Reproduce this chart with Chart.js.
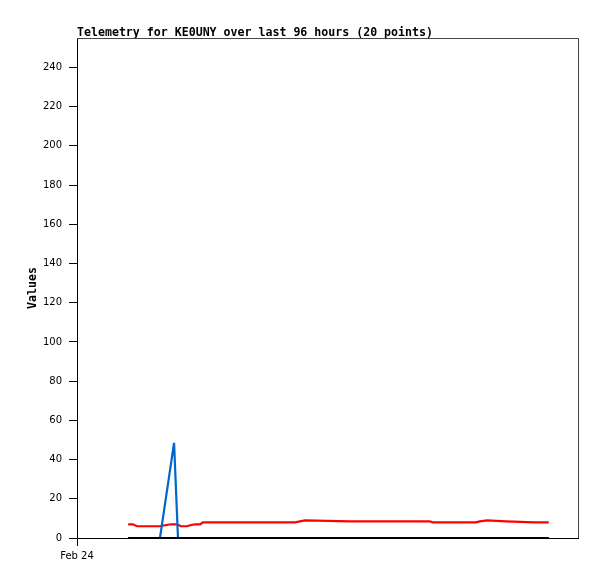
<!DOCTYPE html>
<html>
<head>
<meta charset="utf-8">
<script src="https://cdn.jsdelivr.net/npm/chart.js@4/dist/chart.umd.min.js"></script>
<style>
  html, body { margin: 0; padding: 0; background: #fff; }
  #wrap { width: 597px; height: 579px; }
</style>
</head>
<body>
<div id="wrap"><canvas id="chart" width="597" height="579"></canvas></div>
<script>
// hours since Feb 24 00:00
const redHours = [9.8, 10.7, 11.5, 15.9, 16.9, 18.0, 19.2, 19.9, 21.1, 21.7, 22.6, 23.6, 24.1, 41.8, 42.7, 43.7, 52.3, 67.6, 68.2, 76.4, 77.2, 78.6, 82.2, 87.6, 90.4];
const redValues = [7, 7, 6, 6, 6.5, 7, 7, 6, 6, 6.5, 7, 7, 8, 8, 8.5, 9, 8.5, 8.5, 8, 8, 8.5, 9, 8.5, 8, 8];

const blueHours = [9.8, 15.9, 18.6, 19.35, 90.4];
const blueValues = [0, 0, 48.5, 0, 0];

const blackHours = [9.8, 90.4];
const blackValues = [0, 0];

const yTicks = [0, 20, 40, 60, 80, 100, 120, 140, 160, 180, 200, 220, 240];
const xTicks = [0];
const xTickLabels = ["Feb 24"];

function pts(xs, ys) {
    return xs.map((x, i) => ({ x: x, y: ys[i] }));
}

const boxPlugin = {
    id: "box",
    afterDraw(c) {
        const a = c.chartArea;
        const ctx = c.ctx;
        ctx.save();
        ctx.strokeStyle = "#444";
        ctx.lineWidth = 1;
        ctx.beginPath();
        ctx.moveTo(a.left, a.top + 0.5);
        ctx.lineTo(a.right + 0.5, a.top + 0.5);
        ctx.lineTo(a.right + 0.5, a.bottom);
        ctx.stroke();
        ctx.restore();
    }
};

const ctx = document.getElementById("chart").getContext("2d");

new Chart(ctx, {
    type: "line",
    data: {
        datasets: [
            { data: pts(redHours, redValues), borderColor: "#ff0000", borderWidth: 2.2, order: 2 },
            { data: pts(blueHours, blueValues), borderColor: "#0066cc", borderWidth: 2.2, order: 1 },
            { data: pts(blackHours, blackValues), borderColor: "#000000", borderWidth: 2.2, order: 0 }
        ]
    },
    options: {
        responsive: false,
        animation: false,
        elements: { point: { radius: 0 }, line: { tension: 0, fill: false } },
        layout: { padding: { left: 0, right: 19, top: 0, bottom: 0 } },
        plugins: {
            legend: { display: false },
            tooltip: { enabled: false },
            title: {
                display: true,
                text: "Telemetry for KE0UNY over last 96 hours (20 points)",
                align: "start",
                fullSize: false,
                color: "#000",
                font: { family: "'DejaVu Sans Mono', monospace", size: 11.6, weight: "bold", lineHeight: 0.95 },
                padding: { top: 27, bottom: 0 }
            }
        },
        scales: {
            x: {
                type: "linear",
                min: 0,
                max: 96,
                afterBuildTicks: s => { s.ticks = xTicks.map(v => ({ value: v })); },
                afterFit: s => { s.height = 41; },
                ticks: {
                    autoSkip: false,
                    maxRotation: 0,
                    color: "#000",
                    padding: 4,
                    font: { family: "'DejaVu Sans', sans-serif", size: 10 },
                    callback: (v) => xTickLabels[xTicks.indexOf(v)]
                },
                grid: { drawOnChartArea: false, drawTicks: true, tickLength: 8, color: "#000" },
                border: { display: true, color: "#000", width: 1 }
            },
            y: {
                min: 0,
                max: 255,
                afterBuildTicks: s => { s.ticks = yTicks.map(v => ({ value: v })); },
                afterFit: s => { s.width = 77; },
                ticks: {
                    color: "#000",
                    padding: 7,
                    font: { family: "'DejaVu Sans', sans-serif", size: 10 }
                },
                grid: { drawOnChartArea: false, drawTicks: true, tickLength: 8, color: "#000" },
                border: { display: true, color: "#000", width: 1 },
                title: {
                    display: true,
                    text: "Values",
                    color: "#000",
                    font: { family: "'DejaVu Sans Mono', monospace", size: 11.6, weight: "bold", lineHeight: 1 },
                    padding: { top: 27, bottom: 0 }
                }
            }
        }
    },
    plugins: [boxPlugin]
});
</script>
</body>
</html>
